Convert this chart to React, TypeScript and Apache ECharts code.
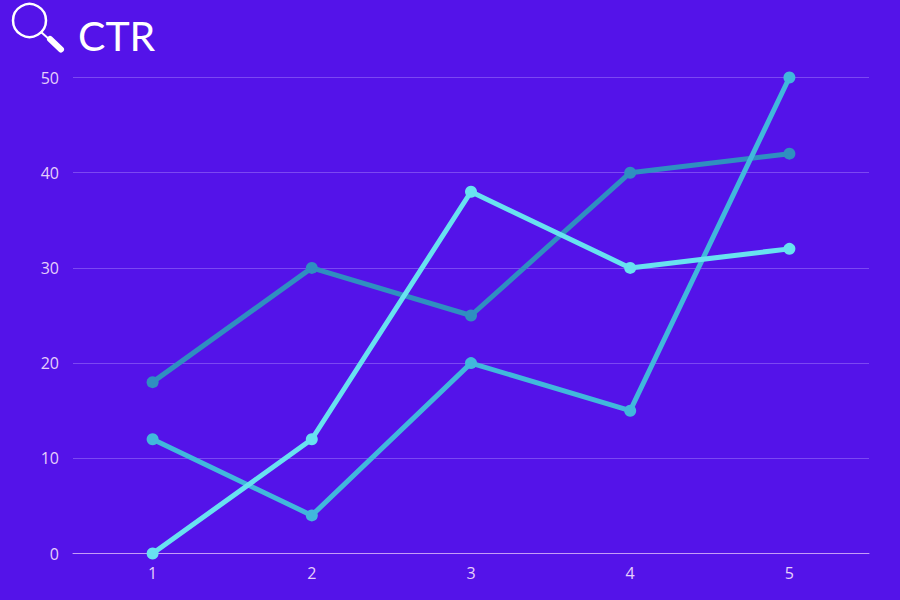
import React, { useEffect, useRef } from "react";
import * as echarts from "echarts";

const categories = ["1", "2", "3", "4", "5"];
const seriesA = [18, 30, 25, 40, 42];
const seriesB = [12, 4, 20, 15, 50];
const seriesC = [0, 12, 38, 30, 32];
const colors = ["#2f8fc0", "#41b8dc", "#68e2f0"];
const allSeries = [seriesA, seriesB, seriesC];

export default function App() {
  const ref = useRef<HTMLDivElement>(null);
  useEffect(() => {
    const chart = echarts.init(ref.current!, null, { renderer: "svg" });
    chart.setOption({
      animation: false,
      backgroundColor: "#5413e9",
      title: {
        text: "CTR",
        left: 73,
        top: 10,
        textStyle: { color: "#ffffff", fontFamily: "Lato", fontSize: 41, fontWeight: 400 },
      },
      grid: { left: 73, right: 31, top: 77.5, bottom: 46.5 },
      xAxis: {
        type: "category",
        data: categories,
        axisLine: { lineStyle: { color: "#c59cf7", width: 1 } },
        axisTick: { show: false },
        axisLabel: { color: "#e6cffb", fontFamily: "Open Sans", fontSize: 16, margin: 11 },
      },
      yAxis: {
        type: "value",
        min: 0,
        max: 50,
        interval: 10,
        axisLine: { show: false },
        axisTick: { show: false },
        axisLabel: { color: "#e6cffb", fontFamily: "Open Sans", fontSize: 16, margin: 14 },
        splitLine: { lineStyle: { color: "#7c48f2", width: 1 } },
      },
      series: allSeries.map((data, i) => ({
        type: "line",
        data,
        symbol: "circle",
        symbolSize: 12,
        lineStyle: { color: colors[i], width: 5 },
        itemStyle: { color: colors[i] },
      })),
      graphic: [
        { type: "circle", shape: { cx: 29.5, cy: 20.5, r: 16.5 }, style: { fill: "none", stroke: "#ffffff", lineWidth: 2.5 } },
        { type: "line", shape: { x1: 41, y1: 32, x2: 50, y2: 40 }, style: { stroke: "#ffffff", lineWidth: 2 } },
        { type: "line", shape: { x1: 50, y1: 39, x2: 61, y2: 49.5 }, style: { stroke: "#ffffff", lineWidth: 6, lineCap: "round" } },
      ],
    });
    return () => chart.dispose();
  }, []);
  return <div ref={ref} style={{ position: "fixed", left: 0, top: 0, width: 900, height: 600 }} />;
}
